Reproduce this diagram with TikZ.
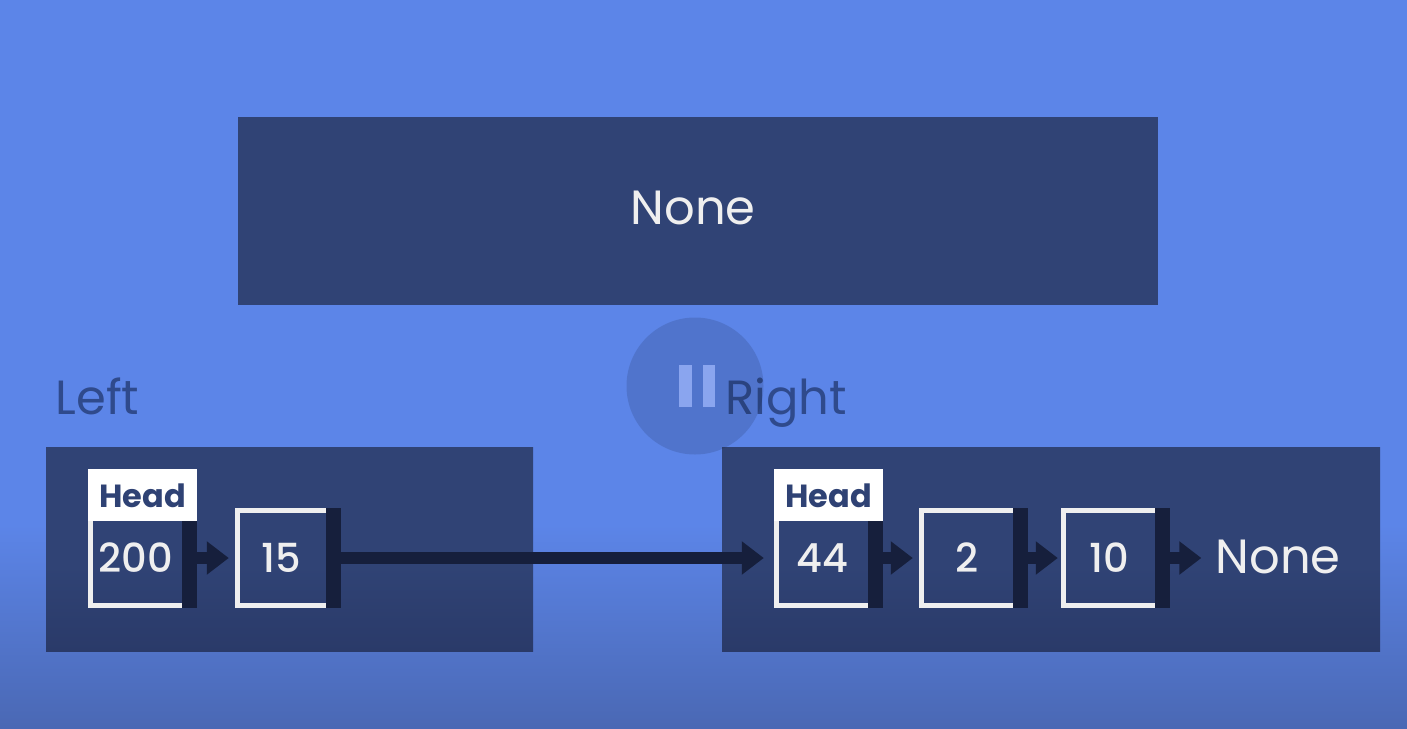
\documentclass[tikz,border=0pt]{standalone}
\usepackage{fontspec}
\setmainfont{Poppins}
\newfontfamily\cellfont{Poppins Medium}
\usetikzlibrary{positioning,arrows.meta}

\definecolor{bgtop}{HTML}{5C85E8}
\definecolor{bgbot}{HTML}{4A68B4}
\definecolor{paneltop}{HTML}{304375}
\definecolor{panelbot}{HTML}{2A3A69}
\definecolor{barcol}{HTML}{161F3C}
\definecolor{framecol}{HTML}{EFEFEF}
\definecolor{labelcol}{HTML}{2F4A8C}
\definecolor{headcol}{HTML}{2F4274}
\definecolor{pausecol}{HTML}{8AA5EF}

\pgfdeclareverticalshading{bgfade}{100bp}{color(0bp)=(bgbot); color(25bp)=(bgbot); color(39bp)=(bgtop); color(100bp)=(bgtop)}
\pgfdeclareverticalshading{panelfade}{100bp}{color(0bp)=(panelbot); color(25bp)=(panelbot); color(46bp)=(paneltop); color(100bp)=(paneltop)}

\tikzset{
  panel/.style={shading=panelfade, inner sep=0pt, anchor=north west},
  cellbox/.style={minimum height=95pt, inner sep=0pt, text=framecol, font=\fontsize{40}{46}\cellfont},
  cellbar/.style={fill=barcol, minimum width=15pt, minimum height=100pt, inner sep=0pt},
  headbox/.style={fill=white, text=headcol, minimum width=109pt, minimum height=52pt, inner sep=0pt, anchor=south west, font=\fontsize{32}{38}\selectfont\bfseries},
  biglabel/.style={inner sep=0pt, anchor=base, font=\fontsize{48}{56}\selectfont},
  link/.style={draw=barcol, line width=11.5pt, shorten <=-1.5pt, -{Triangle[length=22pt,width=32pt]}},
}

% one list cell: width, name, centre x, value
\newcommand{\listcell}[4][91pt]{
  \node[cellbox, minimum width=#1] (#2) at (#3,558) {#4};
  \node[cellbar, right=0pt of #2] (#2bar) {};
  \draw[framecol, line width=5pt]
    (#2.north east) -- (#2.north west) -- (#2.south west) -- (#2.south east);
}

\begin{document}
\begin{tikzpicture}[x=1pt,y=-1pt]
  \useasboundingbox (0,0) rectangle (1407,728);
  \shade[shading=bgfade] (0,0) rectangle (1407,728);

  % panels
  \node[anchor=north west, fill=paneltop, inner sep=0pt, minimum width=920pt, minimum height=188pt] (toppanel) at (238,117) {};
  \node[panel, minimum width=487pt, minimum height=204pt] (leftpanel) at (46,447) {};
  \node[panel, minimum width=658pt, minimum height=204pt] (rightpanel) at (722,447) {};

  \node[biglabel, text=framecol] (topnone) at (693,224) {None};
  \node[biglabel, text=labelcol] (lefttext) at (97.5,414) {Left};
  \node[biglabel, text=labelcol] (righttext) at (786,414) {Right};

  % left list
  \listcell{a}{136}{200}
  \listcell[88.5pt]{b}{281.75}{15}
  % right list
  \listcell{c}{822}{44}
  \listcell{d}{967}{2}
  \listcell{e}{1109}{10}
  \node[biglabel, text=framecol] (lastnone) at (1278,573) {None};

  \node[headbox] (headl) at (88,521.5) {Head};
  \node[headbox] (headr) at (774,521.5) {Head};

  \draw[link, shorten >=8.5pt] (abar.east) -- (b.west);
  \draw[link, shorten >=12.5pt] (bbar.east) -- (c.west);
  \draw[link, shorten >=8.5pt] (cbar.east) -- (d.west);
  \draw[link, shorten >=5.5pt] (dbar.east) -- (e.west);
  \draw[link, shorten >=14pt] (ebar.east) -- (ebar.east -| lastnone.west);

  % pause button on top
  \node[circle, fill=barcol, fill opacity=.16, minimum size=137pt, inner sep=0pt] (pausecircle) at (695,386) {};
  \node[fill=pausecol, minimum width=13pt, minimum height=42pt, inner sep=0pt] (pausea) at (685,386) {};
  \node[fill=pausecol, minimum width=12pt, minimum height=42pt, inner sep=0pt] (pauseb) at (708.5,386) {};
\end{tikzpicture}
\end{document}
